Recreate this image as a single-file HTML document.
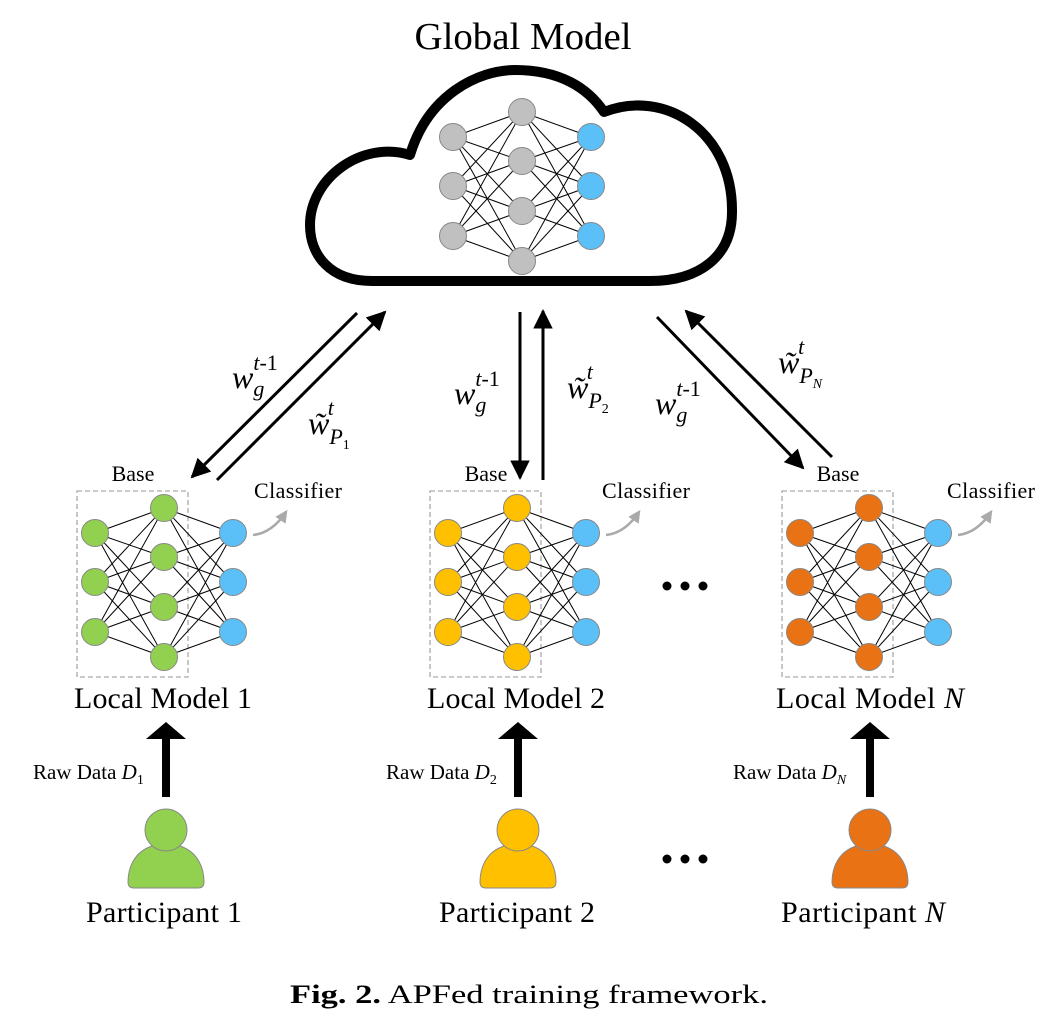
<!DOCTYPE html>
<html><head><meta charset="utf-8"><style>
html,body{margin:0;padding:0;background:#fff}
svg{display:block}
text{font-family:"Liberation Serif",serif;fill:#000}
</style></head><body>
<svg id="s" width="1059" height="1034" viewBox="0 0 1059 1034" xmlns="http://www.w3.org/2000/svg">
<defs>
<marker id="ah" viewBox="0 0 10 10" refX="9" refY="5" markerWidth="6.5" markerHeight="6.5" orient="auto" markerUnits="strokeWidth"><path d="M0,0 L10,5 L0,10 z" fill="#000"/></marker>
<marker id="gh" viewBox="0 0 10 10" refX="8" refY="5" markerWidth="5" markerHeight="5" orient="auto" markerUnits="strokeWidth"><path d="M0,0 L10,5 L0,10 z" fill="#aaa"/></marker>
</defs>
<text x="523" y="49" font-size="38" text-anchor="middle" textLength="217" lengthAdjust="spacingAndGlyphs">Global Model</text>
<path d="M372 281 C330 281 310 255 310 225 C310 178 362 140 410 155 C428 95 478 70 515 70 C560 70 588 88 604 112 C665 88 733 132 732 212 C732 256 700 281 650 281 Z" fill="none" stroke="#000" stroke-width="10" stroke-linejoin="round"/>
<g id="nets"></g>
<g stroke="#000" stroke-width="3" fill="none">
<line x1="357" y1="313" x2="192" y2="477" marker-end="url(#ah)"/>
<line x1="217" y1="480" x2="385" y2="312" marker-end="url(#ah)"/>
<line x1="520" y1="312" x2="520" y2="478" marker-end="url(#ah)"/>
<line x1="543" y1="480" x2="543" y2="311" marker-end="url(#ah)"/>
<line x1="657" y1="317" x2="803" y2="468" marker-end="url(#ah)"/>
<line x1="832" y1="457" x2="686" y2="311" marker-end="url(#ah)"/>
</g>
<g font-size="32" font-style="italic">
<text x="232" y="388">w<tspan font-size="22" dy="8">g</tspan><tspan font-size="22" dx="-11" dy="-26">t</tspan><tspan font-size="22" font-style="normal">-1</tspan></text>
<text x="308" y="434">w̃<tspan font-size="22" dy="10">P</tspan><tspan font-size="14" dy="5" font-style="normal">1</tspan><tspan font-size="22" dx="-22" dy="-34">t</tspan></text>
<text x="454" y="404">w<tspan font-size="22" dy="8">g</tspan><tspan font-size="22" dx="-11" dy="-26">t</tspan><tspan font-size="22" font-style="normal">-1</tspan></text>
<text x="567" y="398">w̃<tspan font-size="22" dy="10">P</tspan><tspan font-size="14" dy="5" font-style="normal">2</tspan><tspan font-size="22" dx="-22" dy="-34">t</tspan></text>
<text x="655" y="414">w<tspan font-size="22" dy="8">g</tspan><tspan font-size="22" dx="-11" dy="-26">t</tspan><tspan font-size="22" font-style="normal">-1</tspan></text>
<text x="778" y="373">w̃<tspan font-size="22" dy="10">P</tspan><tspan font-size="14" dy="5">N</tspan><tspan font-size="22" dx="-24" dy="-34">t</tspan></text>
</g>
<g font-size="22">
<text x="133" y="481" text-anchor="middle">Base</text>
<text x="486" y="481" text-anchor="middle">Base</text>
<text x="838" y="481" text-anchor="middle">Base</text>
<text x="254" y="498" textLength="88">Classifier</text>
<text x="602" y="498" textLength="88">Classifier</text>
<text x="947" y="498" textLength="88">Classifier</text>
</g>
<g fill="none" stroke="#aaa" stroke-width="2.5">
<path d="M253 535 Q272 533 286 512" marker-end="url(#gh)"/>
<path d="M606 535 Q625 533 639 512" marker-end="url(#gh)"/>
<path d="M958 535 Q977 533 991 512" marker-end="url(#gh)"/>
</g>
<g font-size="30">
<text x="74" y="708" textLength="178">Local Model 1</text>
<text x="427" y="708" textLength="178">Local Model 2</text>
<text x="776" y="708" textLength="188">Local Model <tspan font-style="italic">N</tspan></text>
<text x="86" y="922" textLength="156">Participant 1</text>
<text x="439" y="922" textLength="156">Participant 2</text>
<text x="781" y="922" textLength="164">Participant <tspan font-style="italic">N</tspan></text>
</g>
<g font-size="21">
<text x="33" y="779">Raw Data <tspan font-style="italic">D</tspan><tspan font-size="14" dy="5">1</tspan></text>
<text x="386" y="779">Raw Data <tspan font-style="italic">D</tspan><tspan font-size="14" dy="5">2</tspan></text>
<text x="733" y="779">Raw Data <tspan font-style="italic">D</tspan><tspan font-size="14" dy="5" font-style="italic">N</tspan></text>
</g>
<g id="ppl"></g>
<g fill="#000">
<circle cx="667" cy="586" r="4.5"/><circle cx="685" cy="586" r="4.5"/><circle cx="703" cy="586" r="4.5"/>
<circle cx="667" cy="859" r="4.5"/><circle cx="685" cy="859" r="4.5"/><circle cx="703" cy="859" r="4.5"/>
</g>
<text x="290" y="1003" font-size="26" textLength="478" lengthAdjust="spacingAndGlyphs"><tspan font-weight="bold">Fig. 2.</tspan> APFed training framework.</text>
</svg>
<script>
var NS="http://www.w3.org/2000/svg";
function el(p,t,a){var e=document.createElementNS(NS,t);for(var k in a)e.setAttribute(k,a[k]);p.appendChild(e);return e;}
var nets=document.getElementById('nets');
function net(x0,y0,col,box){
 var L=[0,49,99].map(function(d){return [x0,y0+d]});
 var M=[-25,24,74,124].map(function(d){return [x0+69,y0+d]});
 var R=[0,49,99].map(function(d){return [x0+138,y0+d]});
 if(box) el(nets,'rect',{x:x0-18,y:y0-42,width:111,height:186,fill:'none',stroke:'#aaa','stroke-width':1.3,'stroke-dasharray':'5,3'});
 [[L,M],[M,R]].forEach(function(pr){pr[0].forEach(function(a){pr[1].forEach(function(b){el(nets,'line',{x1:a[0],y1:a[1],x2:b[0],y2:b[1],stroke:'#000','stroke-width':1});});});});
 L.concat(M).forEach(function(p){el(nets,'circle',{cx:p[0],cy:p[1],r:13.5,fill:col,stroke:'#888','stroke-width':1});});
 R.forEach(function(p){el(nets,'circle',{cx:p[0],cy:p[1],r:13.5,fill:'#5bc0f8',stroke:'#888','stroke-width':1});});
}
net(453,137,'#c0c0c0',false);
net(95,533,'#92d050',true);
net(448,533,'#ffc000',true);
net(800,533,'#e97214',true);
var ppl=document.getElementById('ppl');
[[166,'#92d050'],[518,'#ffc000'],[870,'#e97214']].forEach(function(p){
 var x=p[0];
 el(ppl,'path',{d:'M'+x+' 722 L'+(x+20)+' 739 L'+(x+4)+' 739 L'+(x+4)+' 797 L'+(x-4)+' 797 L'+(x-4)+' 739 L'+(x-20)+' 739 Z',fill:'#000'});
 el(ppl,'path',{d:'M'+(x-14)+' 846 C'+(x-32)+' 852 '+(x-38)+' 868 '+(x-38)+' 882 Q'+(x-38)+' 888 '+(x-32)+' 888 L'+(x+32)+' 888 Q'+(x+38)+' 888 '+(x+38)+' 882 C'+(x+38)+' 868 '+(x+32)+' 852 '+(x+14)+' 846 Z',fill:p[1],stroke:'#888','stroke-width':1});
 el(ppl,'circle',{cx:x,cy:830,r:21,fill:p[1],stroke:'#888','stroke-width':1});
});
</script>
</body></html>
